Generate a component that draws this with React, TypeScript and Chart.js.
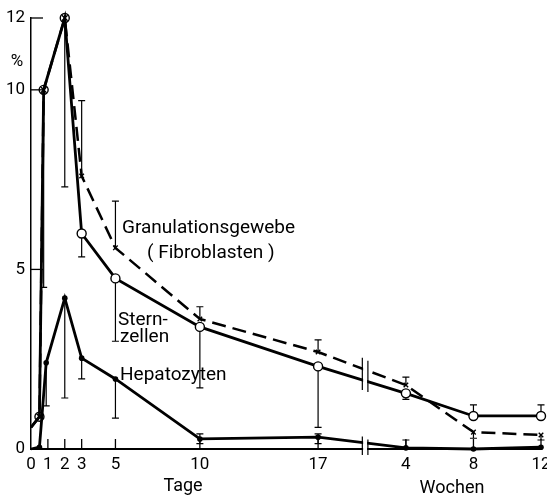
import React, { useEffect, useRef } from "react";
import { Chart, registerables } from "chart.js";

Chart.register(...registerables);

// ---- axis definitions ----
const WEEK_OFFSET = 18.2; // weeks are placed after the axis break: position = week + offset
const dayTicks = [0, 1, 2, 3, 5, 10, 17];
const weekTicks = [4, 8, 12];
const yTicks = [0, 5, 10, 12];
const BREAK_A = 19.62;
const BREAK_B = 19.95;

// ---- time points ----
const fibroDays = [0, 0.5, 0.75, 2, 3, 5, 10, 17];
const fibroWeeks = [4, 8, 12];
const hepDays = [0, 0.5, 0.9, 2, 3, 5, 10, 17];
const hepWeeks = [4, 8, 12];

// ---- Sternzellen (solid, open circles) ----
const sternValues = [0.6, 0.9, 10, 12, 6.0, 4.75, 3.4, 2.3, 1.55, 0.92, 0.92];
const sternErrLow = [null, null, 4.5, 7.3, 5.35, 3.0, 1.7, 0.6, 1.38, null, null];
const sternErrHigh = [null, null, null, null, null, null, null, null, null, 1.23, 1.23];

// ---- Granulationsgewebe (Fibroblasten) (dashed, x markers) ----
const granValues = [0.6, 0.9, 10, 12, 7.6, 5.6, 3.62, 2.7, 1.78, 0.47, 0.39];
const granErrLow = [null, null, null, null, null, null, null, null, null, 0.3, 0.25];
const granErrHigh = [null, null, null, null, 9.7, 6.9, 3.96, 3.04, 2.0, null, null];

// ---- Hepatozyten (solid, filled dots) ----
const hepValues = [0, 0.05, 2.4, 4.2, 2.53, 1.95, 0.28, 0.33, 0.03, 0, 0.05];
const hepErrLow = [null, null, 1.2, 1.42, 1.95, 0.86, 0.15, 0.15, null, null, null];
const hepErrHigh = [null, null, null, null, null, null, 0.42, 0.42, 0.25, null, null];

const FONT = 'Roboto, "Liberation Sans", sans-serif';

export default function App() {
  const ref = useRef<HTMLCanvasElement>(null);

  useEffect(() => {
    document.body.style.margin = "0";
    const canvas = ref.current!;

    const fibroX = [...fibroDays, ...fibroWeeks.map((w) => w + WEEK_OFFSET)];
    const hepX = [...hepDays, ...hepWeeks.map((w) => w + WEEK_OFFSET)];
    const tickPos = [...dayTicks, ...weekTicks.map((w) => w + WEEK_OFFSET)];
    const tickLabels = [...dayTicks.map(String), ...weekTicks.map(String)];

    const toPts = (xs: number[], ys: number[]) => xs.map((x, i) => ({ x, y: ys[i] }));
    const crossIdx = [1, 2, 3];

    const series = [
      { xs: fibroX, ys: sternValues, lo: sternErrLow, hi: sternErrHigh },
      { xs: fibroX, ys: granValues, lo: granErrLow, hi: granErrHigh },
      { xs: hepX, ys: hepValues, lo: hepErrLow, hi: hepErrHigh },
    ];

    const lineYAt = (meta: any, px: number) => {
      const pts = meta.data;
      for (let i = 0; i < pts.length - 1; i++) {
        const a = pts[i], b = pts[i + 1];
        if (a.x <= px && b.x >= px) {
          return a.y + ((b.y - a.y) * (px - a.x)) / (b.x - a.x);
        }
      }
      return null;
    };

    const decor = {
      id: "decor",
      beforeDatasetsDraw(chart: any) {
        const ctx = chart.ctx;
        const xs = chart.scales.x, ys = chart.scales.y;
        ctx.save();
        ctx.strokeStyle = "#000";
        ctx.lineWidth = 1.2;
        const cap = 3.5;
        series.forEach((s) => {
          s.xs.forEach((xv, i) => {
            const px = xs.getPixelForValue(xv);
            const py = ys.getPixelForValue(s.ys[i]);
            [s.lo[i], s.hi[i]].forEach((e) => {
              if (e === null || e === undefined) return;
              const pe = ys.getPixelForValue(e);
              ctx.beginPath();
              ctx.moveTo(px, py);
              ctx.lineTo(px, pe);
              ctx.moveTo(px - cap, pe);
              ctx.lineTo(px + cap, pe);
              ctx.stroke();
            });
          });
        });
        ctx.restore();
      },
      afterDatasetsDraw(chart: any) {
        const ctx = chart.ctx;
        const xs = chart.scales.x, ys = chart.scales.y;
        const area = chart.chartArea;
        const xa = xs.getPixelForValue(BREAK_A);
        const xb = xs.getPixelForValue(BREAK_B);
        const axisY = ys.getPixelForValue(0);
        ctx.save();
        // gap
        ctx.fillStyle = "#fff";
        ctx.fillRect(xa + 0.8, area.top, xb - xa - 1.6, axisY - area.top + 3);
        // bars
        const yS = lineYAt(chart.getDatasetMeta(0), xa);
        const yG = lineYAt(chart.getDatasetMeta(1), xa);
        const yH = lineYAt(chart.getDatasetMeta(2), xa);
        ctx.strokeStyle = "#000";
        ctx.lineWidth = 1.2;
        const bar = (x: number, y1: number, y2: number) => {
          ctx.beginPath();
          ctx.moveTo(x, y1);
          ctx.lineTo(x, y2);
          ctx.stroke();
        };
        if (yS !== null && yG !== null) {
          const t = Math.min(yS, yG), b = Math.max(yS, yG);
          bar(xa, t - 11, b + 10);
          bar(xb, t - 8, b + 12);
        }
        if (yH !== null) {
          bar(xa, yH - 6, axisY + 6);
          bar(xb, yH - 3, axisY + 6);
        }
        // inward tick marks
        ctx.lineWidth = 1.3;
        tickPos.forEach((v) => {
          if (v === 0) return;
          const px = xs.getPixelForValue(v);
          bar(px, axisY, axisY - 10);
        });
        yTicks.forEach((v) => {
          if (v === 0) return;
          const py = ys.getPixelForValue(v);
          ctx.beginPath();
          ctx.moveTo(area.left, py);
          ctx.lineTo(area.left + 12, py);
          ctx.stroke();
        });
        // texts
        ctx.fillStyle = "#000";
        ctx.textBaseline = "alphabetic";
        ctx.textAlign = "left";
        ctx.font = `19px ${FONT}`;
        ctx.fillText("Granulationsgewebe", 122, 233);
        ctx.fillText("( Fibroblasten )", 147, 258);
        ctx.fillText("Stern-", 118, 325);
        ctx.fillText("zellen", 120, 342);
        ctx.fillText("Hepatozyten", 120, 380);
        ctx.textAlign = "center";
        ctx.font = `18px ${FONT}`;
        ctx.fillText("Tage", 183, 491);
        ctx.fillText("Wochen", 452, 493);
        ctx.font = `17px ${FONT}`;
        ctx.fillText("%", 17, 66);
        ctx.restore();
      },
    };

    const chart = new Chart(canvas, {
      type: "line",
      data: {
        datasets: [
          {
            label: "Sternzellen",
            data: toPts(fibroX, sternValues),
            borderColor: "#000",
            borderWidth: 2.8,
            pointStyle: "circle",
            pointRadius: fibroX.map((_, i) => (i === 0 ? 0 : 4.5)),
            pointBorderWidth: 1.4,
            pointBorderColor: "#000",
            pointBackgroundColor: fibroX.map((_, i) => (crossIdx.includes(i) ? "rgba(0,0,0,0)" : "#fff")),
            tension: 0,
            clip: false,
          },
          {
            label: "Granulationsgewebe (Fibroblasten)",
            data: toPts(fibroX, granValues),
            borderColor: "#000",
            borderWidth: 2.5,
            borderDash: [14, 7],
            pointStyle: "crossRot",
            pointRadius: fibroX.map((_, i) => (i === 0 ? 0 : crossIdx.includes(i) ? 4 : 3.2)),
            pointBorderWidth: 1.4,
            pointBorderColor: "#000",
            tension: 0,
            clip: false,
          },
          {
            label: "Hepatozyten",
            data: toPts(hepX, hepValues),
            borderColor: "#000",
            borderWidth: 2.8,
            pointStyle: "circle",
            pointRadius: hepX.map((_, i) => (i === 0 ? 0 : 2.8)),
            pointBorderWidth: 0,
            pointBackgroundColor: "#000",
            tension: 0,
            clip: false,
          },
        ],
      },
      options: {
        animation: false,
        responsive: false,
        devicePixelRatio: 1,
        layout: { padding: { left: 0, top: 18, right: 6, bottom: 0 } },
        plugins: { legend: { display: false }, tooltip: { enabled: false } },
        scales: {
          x: {
            type: "linear",
            min: 0,
            max: 12 + WEEK_OFFSET,
            afterBuildTicks: (s: any) => {
              s.ticks = tickPos.map((v) => ({ value: v }));
            },
            afterFit: (s: any) => {
              s.height = 48;
              s.paddingRight = 0;
              s.paddingLeft = 0;
            },
            grid: { display: false, drawTicks: false },
            border: { display: true, color: "#000", width: 2 },
            ticks: {
              autoSkip: false,
              maxRotation: 0,
              padding: 6,
              color: "#000",
              font: { family: FONT, size: 17 },
              callback: (v: any) => {
                const i = tickPos.findIndex((p) => Math.abs(p - v) < 1e-6);
                return i >= 0 ? tickLabels[i] : "";
              },
            },
          },
          y: {
            type: "linear",
            min: 0,
            max: 12,
            afterBuildTicks: (s: any) => {
              s.ticks = yTicks.map((v) => ({ value: v }));
            },
            afterFit: (s: any) => {
              s.width = 31;
              s.paddingTop = 0;
              s.paddingBottom = 0;
            },
            grid: { display: false, drawTicks: false },
            border: { display: true, color: "#000", width: 1.5 },
            ticks: {
              padding: 6,
              color: "#000",
              font: { family: FONT, size: 17 },
            },
          },
        },
      },
      plugins: [decor],
    } as any);

    return () => chart.destroy();
  }, []);

  return (
    <div style={{ position: "absolute", left: 0, top: 0, width: 547, height: 497, background: "#fff" }}>
      <canvas ref={ref} width={547} height={497} style={{ display: "block", width: 547, height: 497 }} />
    </div>
  );
}
